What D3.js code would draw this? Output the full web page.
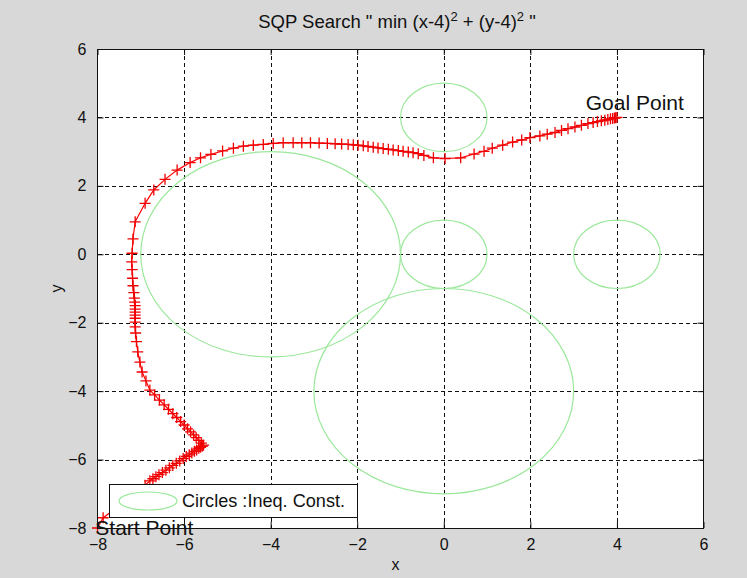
<!DOCTYPE html>
<html>
<head>
<meta charset="utf-8">
<script src="https://cdn.jsdelivr.net/npm/d3@7/dist/d3.min.js"></script>
<style>
  html, body { margin: 0; padding: 0; background: #d8d8d8; }
  svg { display: block; }
  text { font-family: "Liberation Sans", Arial, sans-serif; fill: #111; }
</style>
</head>
<body>
<svg id="fig" width="747" height="578"></svg>
<script>
// Axis ticks
const xTicks = [-8, -6, -4, -2, 0, 2, 4, 6];
const yTicks = [-8, -6, -4, -2, 0, 2, 4, 6];

// Inequality constraint circles: centre x, centre y, radius
const circleCx = [0, 0, 4, -4, 0];
const circleCy = [4, 0, 0, 0, -4];
const circleR  = [1, 1, 1, 3, 3];

// SQP iterates from the start point to the goal
const pathX = [
  -8.00, -7.87, -7.60, -7.35, -7.10, -6.90, -6.79,
  -6.72, -6.65, -6.58, -6.50, -6.42, -6.34, -6.26, -6.18, -6.10, -6.02,
  -5.95, -5.88, -5.82, -5.76, -5.71, -5.66, -5.62, -5.58, -5.55,
  -5.60, -5.66, -5.72, -5.78, -5.85, -5.92, -6.00, -6.08, -6.17, -6.26,
  -6.36, -6.46, -6.57, -6.68, -6.79,
  -6.88, -6.97, -7.02, -7.07, -7.10, -7.12, -7.13, -7.13, -7.13, -7.13,
  -7.13, -7.13, -7.13, -7.14, -7.15, -7.16, -7.18, -7.19, -7.20, -7.21,
  -7.20, -7.18, -7.13,
  -6.90, -6.70, -6.44, -6.16, -5.86, -5.62, -5.38, -5.11, -4.86, -4.63,
  -4.40, -4.17, -3.94, -3.71, -3.48, -3.28, -3.08, -2.88, -2.69, -2.51,
  -2.36, -2.21, -2.09, -1.98, -1.86, -1.75, -1.63, -1.52, -1.40, -1.28,
  -1.17, -1.05, -0.94, -0.82, -0.71, -0.59, -0.46, -0.24, 0.03, 0.39,
  0.70, 0.93, 1.12, 1.36, 1.59, 1.80, 1.99, 2.22, 2.39, 2.57,
  2.72, 2.87, 3.03, 3.18, 3.33, 3.45, 3.55, 3.64, 3.72, 3.79,
  3.85, 3.90, 3.94, 3.97, 4.00
];
const pathY = [
  -8.00, -7.70, -7.45, -7.20, -6.95, -6.75, -6.62,
  -6.56, -6.50, -6.44, -6.38, -6.31, -6.24, -6.17, -6.11, -6.04, -5.97,
  -5.91, -5.86, -5.81, -5.76, -5.72, -5.67, -5.64, -5.61, -5.58,
  -5.52, -5.44, -5.36, -5.28, -5.19, -5.10, -4.99, -4.89, -4.77, -4.66,
  -4.53, -4.40, -4.26, -4.11, -3.97,
  -3.70, -3.44, -3.15, -2.85, -2.55, -2.30, -2.12, -1.98, -1.87, -1.78,
  -1.69, -1.60, -1.50, -1.40, -1.28, -1.12, -0.92, -0.70, -0.45, -0.22,
  0.03, 0.45, 0.95,
  1.49, 1.88, 2.19, 2.46, 2.68, 2.82, 2.92, 3.02, 3.10, 3.16,
  3.19, 3.21, 3.24, 3.26, 3.26, 3.26, 3.26, 3.25, 3.24, 3.23,
  3.22, 3.21, 3.20, 3.19, 3.17, 3.15, 3.13, 3.11, 3.09, 3.07,
  3.05, 3.03, 3.01, 2.99, 2.97, 2.94, 2.89, 2.82, 2.80, 2.82,
  2.93, 3.01, 3.10, 3.19, 3.28, 3.34, 3.41, 3.46, 3.51, 3.56,
  3.62, 3.67, 3.72, 3.77, 3.82, 3.85, 3.88, 3.90, 3.92, 3.94,
  3.96, 3.97, 3.98, 3.99, 4.00
];

// Annotations placed in data space
const noteText = ["Goal Point", "Start Point"];
const noteX = [3.28, -8.05];
const noteY = [4.42, -7.98];

const legendLabel = "Circles :Ineq. Const.";

const svg = d3.select("#fig");
const L = 97.5, R = 703.5, T = 49, B = 528;

const x = d3.scaleLinear().domain([-8, 6]).range([L, R]);
const y = d3.scaleLinear().domain([-8, 6]).range([B, T]);

// Figure background and axes area
svg.append("rect").attr("width", 747).attr("height", 578).attr("fill", "#d8d8d8");
svg.append("rect").attr("x", L).attr("y", T).attr("width", R - L).attr("height", B - T)
  .attr("fill", "#ffffff");

// Dashed grid
const grid = svg.append("g").attr("stroke", "#111").attr("stroke-width", 1)
  .attr("stroke-dasharray", "4,3").attr("shape-rendering", "crispEdges");
grid.selectAll("line.gx").data(xTicks.slice(1, -1)).join("line")
  .attr("x1", d => Math.round(x(d)) + 0.5).attr("x2", d => Math.round(x(d)) + 0.5)
  .attr("y1", T).attr("y2", B);
grid.selectAll("line.gy").data(yTicks.slice(1, -1)).join("line")
  .attr("y1", d => Math.round(y(d)) + 0.5).attr("y2", d => Math.round(y(d)) + 0.5)
  .attr("x1", L).attr("x2", R);

// Constraint circles
const circleData = circleCx.map((cx, i) => ({ cx, cy: circleCy[i], r: circleR[i] }));
svg.append("g").selectAll("ellipse").data(circleData).join("ellipse")
  .attr("cx", d => x(d.cx)).attr("cy", d => y(d.cy))
  .attr("rx", d => x(d.r) - x(0)).attr("ry", d => y(0) - y(d.r))
  .attr("fill", "none").attr("stroke", "#9be89b").attr("stroke-width", 1.2);

// Iterate path with '+' markers
const pts = pathX.map((px, i) => [px, pathY[i]]);
svg.append("path")
  .attr("d", d3.line().x(d => x(d[0])).y(d => y(d[1]))(pts))
  .attr("fill", "none").attr("stroke", "#ff0000").attr("stroke-width", 1.2);
const m = 5.5;
svg.append("g").selectAll("path").data(pts).join("path")
  .attr("d", d => {
    const cx = x(d[0]), cy = y(d[1]);
    return `M${cx - m},${cy}H${cx + m}M${cx},${cy - m}V${cy + m}`;
  })
  .attr("stroke", "#f00000").attr("stroke-width", 1.3).attr("fill", "none");

// Axes with inward ticks on all four sides
const tickLen = 6;
const axisFont = "16px";
const gx = svg.append("g").attr("transform", `translate(0,${B})`)
  .call(d3.axisBottom(x).tickValues(xTicks).tickSize(-tickLen).tickPadding(5 + tickLen));
const gxt = svg.append("g").attr("transform", `translate(0,${T})`)
  .call(d3.axisTop(x).tickValues(xTicks).tickSize(-tickLen).tickFormat(""));
const gy = svg.append("g").attr("transform", `translate(${L},0)`)
  .call(d3.axisLeft(y).tickValues(yTicks).tickSize(-tickLen).tickPadding(5 + tickLen));
const gyr = svg.append("g").attr("transform", `translate(${R},0)`)
  .call(d3.axisRight(y).tickValues(yTicks).tickSize(-tickLen).tickFormat(""));
[gx, gxt, gy, gyr].forEach(g => {
  g.select(".domain").remove();
  g.selectAll("line").attr("stroke", "#111");
  g.selectAll("text").attr("font-size", axisFont)
    .attr("font-family", "Liberation Sans, Arial, sans-serif").attr("fill", "#111");
});
gx.selectAll("text").attr("dy", "0.71em");

svg.append("rect").attr("x", L).attr("y", T).attr("width", R - L).attr("height", B - T)
  .attr("fill", "none").attr("stroke", "#111").attr("stroke-width", 1)
  .attr("shape-rendering", "crispEdges");

// Legend
const lg = svg.append("g");
lg.append("rect").attr("x", 109.5).attr("y", 484.5).attr("width", 248).attr("height", 33)
  .attr("fill", "#fff").attr("stroke", "#111").attr("shape-rendering", "crispEdges");
lg.append("ellipse").attr("cx", 148).attr("cy", 501).attr("rx", 29).attr("ry", 9)
  .attr("fill", "none").attr("stroke", "#9be89b").attr("stroke-width", 1.2);
lg.append("text").attr("x", 182).attr("y", 501).attr("dy", "0.35em")
  .attr("font-size", "17.5px").attr("textLength", 163).attr("lengthAdjust", "spacingAndGlyphs")
  .text(legendLabel);

// Point annotations
svg.append("g").selectAll("text").data(noteText).join("text")
  .attr("x", (d, i) => x(noteX[i])).attr("y", (d, i) => y(noteY[i]))
  .attr("dy", "0.35em").attr("font-size", "21px").attr("fill", "#222")
  .text(d => d);

// Title with superscripts
const title = svg.append("text").attr("x", 397).attr("y", 28)
  .attr("text-anchor", "middle").attr("font-size", "18.5px");
title.append("tspan").text('SQP Search " min (x-4)');
title.append("tspan").attr("dy", -7).attr("font-size", "13px").text("2");
title.append("tspan").attr("dy", 7).text(" + (y-4)");
title.append("tspan").attr("dy", -7).attr("font-size", "13px").text("2");
title.append("tspan").attr("dy", 7).text(' "');

// Axis labels
svg.append("text").attr("x", (L + R) / 2 - 5).attr("y", 570).attr("text-anchor", "middle")
  .attr("font-size", "16px").text("x");
svg.append("text").attr("transform", `translate(62,${(T + B) / 2}) rotate(-90)`)
  .attr("text-anchor", "middle").attr("font-size", "16px").text("y");
</script>
</body>
</html>
